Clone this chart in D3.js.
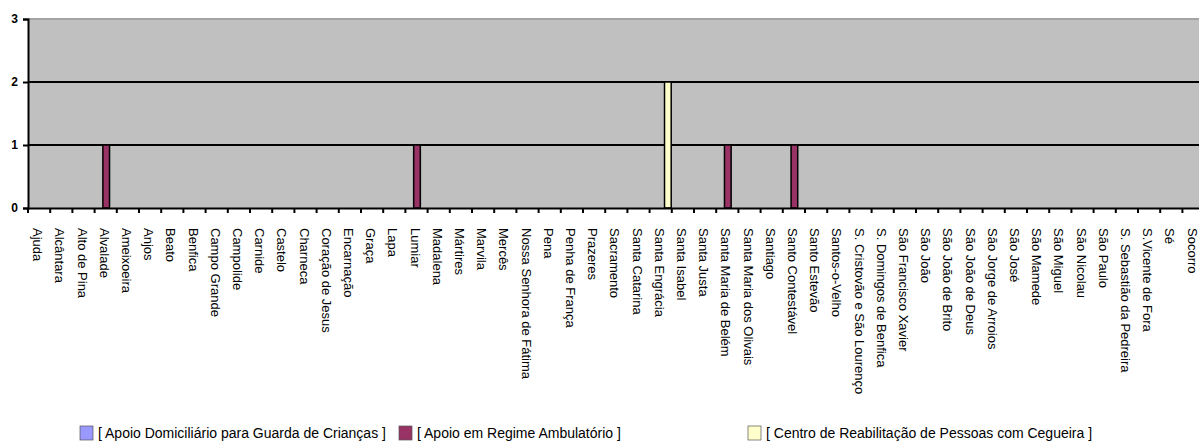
<!DOCTYPE html>
<html><head><meta charset="utf-8">
<script src="https://cdn.jsdelivr.net/npm/d3@7"></script>
<style>
html,body{margin:0;padding:0;background:#fff;}
svg{display:block;font-family:"Liberation Sans",Arial,sans-serif;}
</style></head>
<body>
<svg id="chart" width="1199" height="443"></svg>
<script>
const categories = ["Ajuda","Alcântara","Alto de Pina","Alvalade","Ameixoeira","Anjos","Beato","Benfica","Campo Grande","Campolide","Carnide","Castelo","Charneca","Coração de Jesus","Encarnação","Graça","Lapa","Lumiar","Madalena","Mártires","Marvila","Mercês","Nossa Senhora de Fátima","Pena","Penha de França","Prazeres","Sacramento","Santa Catarina","Santa Engrácia","Santa Isabel","Santa Justa","Santa Maria de Belém","Santa Maria dos Olivais","Santiago","Santo Contestável","Santo Estevão","Santos-o-Velho","S. Cristovão e São Lourenço","S. Domingos de Benfica","São Francisco Xavier","São João","São João de Brito","São João de Deus","São Jorge de Arroios","São José","São Mamede","São Miguel","São Nicolau","São Paulo","S. Sebastião da Pedreira","S.Vicente de Fora","Sé","Socorro"];
const seriesNames = ["[ Apoio Domiciliário para Guarda de Crianças ]","[ Apoio em Regime Ambulatório ]","[ Centro de Reabilitação de Pessoas com Cegueira ]"];
const seriesColors = ["#9999ff","#993366","#ffffcc"];
// values per category for each series (non-listed = 0)
const apoioDomiciliario = categories.map(() => 0);
const ambulatorioCats = ["Alvalade","Lumiar","Santa Maria de Belém","Santo Contestável"];
const ambulatorioVals = [1,1,1,1];
const cegueiraCats = ["Santa Engrácia"];
const cegueiraVals = [2];
const yTicks = [0,1,2,3];

function fill(cats, vals){
  return categories.map(c => { const i = cats.indexOf(c); return i >= 0 ? vals[i] : 0; });
}
const seriesValues = [apoioDomiciliario, fill(ambulatorioCats, ambulatorioVals), fill(cegueiraCats, cegueiraVals)];

const svg = d3.select("#chart");
const mLeft = 28, mTop = 19, mBottom = 208;
const bandW = 22.2;
const x = d3.scaleBand().domain(categories).range([mLeft, mLeft + bandW*categories.length]).paddingInner(0).paddingOuter(0);
const groupW = 20;
const x1 = d3.scaleBand().domain(d3.range(3)).range([-groupW/2 + 0.5, groupW/2 + 0.5]);
const y = d3.scaleLinear().domain([0,3]).range([mBottom, mTop]);

// plot background
svg.append("rect").attr("x", mLeft).attr("y", mTop).attr("width", 1199-mLeft+5).attr("height", mBottom-mTop).attr("fill","#c0c0c0");

// gridlines (top one appears as grey frame edge)
svg.append("g").selectAll("line").data(yTicks.filter(d=>d>0)).join("line")
  .attr("x1", mLeft).attr("x2", 1205).attr("y1", d=>y(d)).attr("y2", d=>y(d))
  .attr("stroke", d => d === 3 ? "#a4a4a4" : "#000").attr("stroke-width",2);

// bars
const bars = [];
seriesValues.forEach((vals, s) => vals.forEach((v, i) => { if (v > 0) bars.push({s, c: categories[i], v}); }));
svg.append("g").selectAll("rect").data(bars).join("rect")
  .attr("x", d => x(d.c) + x.bandwidth()/2 + x1(d.s))
  .attr("width", x1.bandwidth())
  .attr("y", d => y(d.v))
  .attr("height", d => y(0) - y(d.v))
  .attr("fill", d => seriesColors[d.s])
  .attr("stroke","#000").attr("stroke-width",1.5);

// y axis
const yAxis = d3.axisLeft(y).tickValues(yTicks).tickSize(5).tickPadding(5).tickFormat(d3.format("d"));
const gy = svg.append("g").attr("transform",`translate(${mLeft},0)`).call(yAxis);
gy.select(".domain").attr("stroke","#000").attr("stroke-width",2);
gy.selectAll(".tick line").attr("stroke","#000").attr("stroke-width",2);
gy.selectAll(".tick text").attr("font-size",12).attr("font-weight","bold").attr("fill","#000").attr("font-family","Liberation Sans, Arial, sans-serif");

// x axis
const xAxis = d3.axisBottom(x).tickSize(0).tickFormat(d=>d);
const gx = svg.append("g").attr("transform",`translate(0,${mBottom})`).call(xAxis);
gx.select(".domain").attr("stroke","#000").attr("stroke-width",2);
gx.selectAll(".tick text")
  .attr("font-size",13).attr("fill","#000").attr("font-family","Liberation Sans, Arial, sans-serif")
  .attr("text-anchor","start")
  .attr("x", 20).attr("y", 0).attr("dy","0.3em").attr("dx",0)
  .attr("transform", "translate(-2,0) rotate(90)");
// boundary tick marks
svg.append("g").selectAll("line").data(d3.range(categories.length)).join("line")
  .attr("x1", i => x(categories[i])).attr("x2", i => x(categories[i]))
  .attr("y1", mBottom).attr("y2", mBottom+5)
  .attr("stroke","#000").attr("stroke-width",2);

// legend
const legX = [80, 399, 748];
const lg = svg.append("g").selectAll("g").data(seriesNames).join("g")
  .attr("transform",(d,i)=>`translate(${legX[i]},426)`);
lg.append("rect").attr("width",13).attr("height",14).attr("fill",(d,i)=>seriesColors[i]).attr("stroke","#555").attr("stroke-width",0.7);
lg.append("text").attr("x",18).attr("y",12).attr("font-size",14).attr("fill","#000").text(d=>d);
</script>
</body></html>
